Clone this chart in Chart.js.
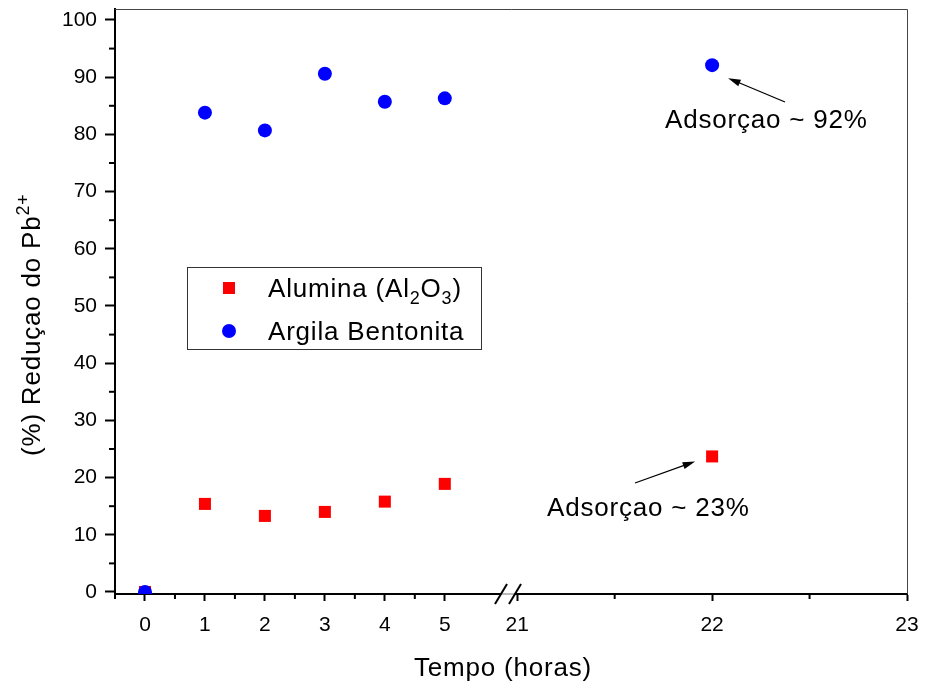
<!DOCTYPE html>
<html>
<head>
<meta charset="utf-8">
<script src="https://cdn.jsdelivr.net/npm/chart.js@4/dist/chart.umd.min.js"></script>
<style>
  html, body { margin: 0; padding: 0; background: #fff; }
  #box { width: 925px; height: 688px; }
</style>
</head>
<body>
<div id="box"><canvas id="grafico"></canvas></div>
<script>
// Dados
const horas = [0, 1, 2, 3, 4, 5, 22];
const alumina = [0, 15.4, 13.3, 14.0, 15.8, 18.9, 23.7];
const argila = [0, 83.8, 80.7, 90.6, 85.7, 86.3, 92.1];

const ticksX = [0, 1, 2, 3, 4, 5, 21, 22, 23];
const ticksXMenores = [-0.5, 0.5, 1.5, 2.5, 3.5, 4.5, 5.5, 21.5, 22.5];
const ticksY = [0, 10, 20, 30, 40, 50, 60, 70, 80, 90, 100];
const ticksYMenores = [5, 15, 25, 35, 45, 55, 65, 75, 85, 95];

const fonte = "'Liberation Sans', Arial, sans-serif";

// eixo x quebrado: 0-5 e depois 21-23 (escala diferente)
function eixoX(h) {
    if (h <= 5) return h;
    return 6.208 + (h - 21) * 3.25;
}

function pontos(valores) {
    return horas.map((h, i) => ({ x: eixoX(h), y: valores[i] }));
}

function textoComIndices(ctx, partes, x, y) {
    // partes: [texto, tipo] onde tipo = "n" normal, "sub" ou "sup"
    let cx = x;
    partes.forEach(p => {
        let dy = 0;
        if (p[1] === "n") ctx.font = "26px " + fonte;
        else ctx.font = "18px " + fonte;
        if (p[1] === "sub") dy = 7;
        if (p[1] === "sup") dy = -11;
        ctx.fillText(p[0], cx, y + dy);
        cx += ctx.measureText(p[0]).width;
    });
}

function seta(ctx, x1, y1, x2, y2) {
    const ang = Math.atan2(y2 - y1, x2 - x1);
    const tam = 13;
    ctx.strokeStyle = "#000";
    ctx.fillStyle = "#000";
    ctx.lineWidth = 1.3;
    ctx.beginPath();
    ctx.moveTo(x1, y1);
    ctx.lineTo(x2 - Math.cos(ang) * 8, y2 - Math.sin(ang) * 8);
    ctx.stroke();
    ctx.beginPath();
    ctx.moveTo(x2, y2);
    ctx.lineTo(x2 - tam * Math.cos(ang - 0.28), y2 - tam * Math.sin(ang - 0.28));
    ctx.lineTo(x2 - tam * Math.cos(ang + 0.28), y2 - tam * Math.sin(ang + 0.28));
    ctx.closePath();
    ctx.fill();
}

// desenha moldura, ticks menores, quebra, legenda, títulos e anotações
const extras = {
    id: "extras",
    afterDraw(chart) {
        const ctx = chart.ctx;
        const a = chart.chartArea;
        const sx = chart.scales.x;
        const sy = chart.scales.y;
        ctx.save();

        // moldura fina em cima e à direita
        ctx.strokeStyle = "#444";
        ctx.lineWidth = 1;
        ctx.beginPath();
        ctx.moveTo(a.left, a.top + 0.5);
        ctx.lineTo(a.right + 0.5, a.top + 0.5);
        ctx.lineTo(a.right + 0.5, a.bottom);
        ctx.stroke();

        // ticks menores
        ctx.strokeStyle = "#000";
        ctx.lineWidth = 2;
        ticksYMenores.forEach(v => {
            const py = sy.getPixelForValue(v);
            ctx.beginPath();
            ctx.moveTo(a.left - 6, py);
            ctx.lineTo(a.left, py);
            ctx.stroke();
        });
        ticksXMenores.forEach(v => {
            const px = sx.getPixelForValue(eixoX(v));
            ctx.beginPath();
            ctx.moveTo(px, a.bottom);
            ctx.lineTo(px, a.bottom + 5);
            ctx.stroke();
        });

        // quebra do eixo
        const q1 = 501, q2 = 515;
        ctx.fillStyle = "#fff";
        ctx.fillRect(q1, a.bottom - 2, q2 - q1, 4);
        ctx.strokeStyle = "#777";
        ctx.lineWidth = 1;
        ctx.beginPath();
        ctx.moveTo(q1, a.bottom);
        ctx.lineTo(q2, a.bottom);
        ctx.stroke();
        ctx.strokeStyle = "#000";
        ctx.lineWidth = 2;
        [q1, q2].forEach(q => {
            ctx.beginPath();
            ctx.moveTo(q - 6, a.bottom + 10);
            ctx.lineTo(q + 6, a.bottom - 10);
            ctx.stroke();
        });

        // legenda
        ctx.strokeStyle = "#333";
        ctx.lineWidth = 1;
        ctx.strokeRect(187.5, 267.5, 294, 82);
        ctx.fillStyle = "#ff0000";
        ctx.fillRect(223, 282, 12, 12);
        ctx.fillStyle = "#0000ff";
        ctx.beginPath();
        ctx.arc(229, 331, 7, 0, Math.PI * 2);
        ctx.fill();

        ctx.fillStyle = "#000";
        ctx.letterSpacing = "0.8px";
        ctx.textAlign = "left";
        ctx.textBaseline = "alphabetic";
        textoComIndices(ctx, [["Alumina (Al", "n"], ["2", "sub"], ["O", "n"], ["3", "sub"], [")", "n"]], 268, 297);
        textoComIndices(ctx, [["Argila Bentonita", "n"]], 268, 340);

        // título do eixo x
        textoComIndices(ctx, [["Tempo (horas)", "n"]], 414, 676);

        // título do eixo y (girado)
        ctx.save();
        ctx.translate(40, 456);
        ctx.rotate(-Math.PI / 2);
        textoComIndices(ctx, [["(%) Reduçao do Pb", "n"], ["2+", "sup"]], 0, 0);
        ctx.restore();

        // anotações
        const p92x = sx.getPixelForValue(eixoX(22));
        const p92y = sy.getPixelForValue(argila[6]);
        const p23y = sy.getPixelForValue(alumina[6]);
        textoComIndices(ctx, [["Adsorçao ~ 92%", "n"]], 665, 128);
        textoComIndices(ctx, [["Adsorçao ~ 23%", "n"]], 547, 516);
        ctx.letterSpacing = "0px";
        seta(ctx, 785, 102, p92x + 16, p92y + 13);
        seta(ctx, 635, 483, p92x - 17, p23y + 5);

        ctx.restore();
    }
};

const ctx = document.getElementById("grafico").getContext("2d");

const grafico = new Chart(ctx, {
    type: "scatter",
    data: {
        datasets: [
            {
                label: "Alumina (Al2O3)",
                data: pontos(alumina),
                pointStyle: "rect",
                pointRadius: 8.5,
                pointHoverRadius: 8.5,
                backgroundColor: "#ff0000",
                borderWidth: 0,
                order: 1
            },
            {
                label: "Argila Bentonita",
                data: pontos(argila),
                pointStyle: "circle",
                pointRadius: 7,
                pointHoverRadius: 7,
                backgroundColor: "#0000ff",
                borderWidth: 0,
                order: 0
            }
        ]
    },
    options: {
        responsive: true,
        maintainAspectRatio: false,
        animation: false,
        events: [],
        layout: { padding: { left: 0, right: 18, top: 9, bottom: 0 } },
        plugins: {
            legend: { display: false },
            tooltip: { enabled: false }
        },
        scales: {
            x: {
                type: "linear",
                min: -0.5,
                max: eixoX(23),
                afterBuildTicks: s => { s.ticks = ticksX.map(h => ({ value: eixoX(h) })); },
                afterFit: s => { s.height = 94; s.paddingLeft = 0; s.paddingRight = 0; },
                ticks: {
                    callback: (v, i) => String(ticksX[i]),
                    autoSkip: false,
                    maxRotation: 0,
                    padding: 12,
                    color: "#000",
                    font: { family: fonte, size: 21 }
                },
                grid: {
                    drawOnChartArea: false,
                    drawTicks: true,
                    tickLength: 7,
                    tickWidth: 2,
                    tickColor: "#000"
                },
                border: { display: true, color: "#000", width: 2 }
            },
            y: {
                min: -0.35,
                max: 101.92,
                afterBuildTicks: s => { s.ticks = ticksY.map(v => ({ value: v })); },
                afterFit: s => { s.width = 115; s.paddingTop = 0; s.paddingBottom = 0; },
                ticks: {
                    padding: 8,
                    color: "#000",
                    font: { family: fonte, size: 21 }
                },
                grid: {
                    drawOnChartArea: false,
                    drawTicks: true,
                    tickLength: 10,
                    tickWidth: 2,
                    tickColor: "#000"
                },
                border: { display: true, color: "#000", width: 2 }
            }
        }
    },
    plugins: [extras]
});
</script>
</body>
</html>
